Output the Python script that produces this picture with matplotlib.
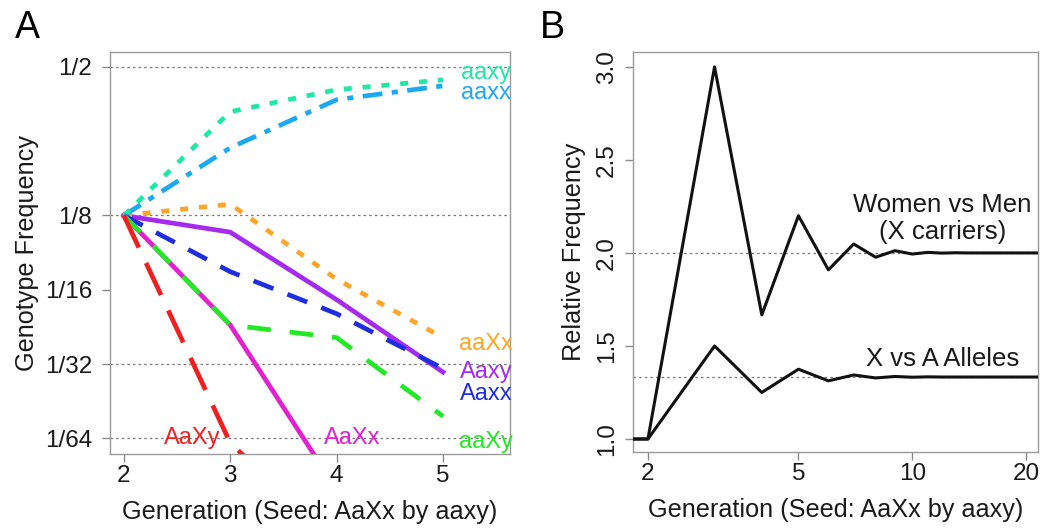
import matplotlib
matplotlib.use("Agg")
from matplotlib import pyplot as plt
import numpy as np

# panel A: genotype frequencies by generation (log2 scale)
gens_a = [2, 3, 4, 5]
aaxy = [0.125, 0.329, 0.404, 0.443]
aaxx = [0.125, 0.235, 0.368, 0.419]
aaXx = [0.125, 0.139, 0.069, 0.040]
Aaxy = [0.125, 0.107, 0.057, 0.029]
Aaxx = [0.125, 0.074, 0.050, 0.030]
aaXy = [0.125, 0.045, 0.040, 0.0192]
AaXx = [0.125, 0.045, 0.0097, 0.0025]
AaXy = [0.125, 0.015, 0.0058, 0.0015]

a_yticks = [1 / 2, 1 / 8, 1 / 16, 1 / 32, 1 / 64]
a_yticklabels = ["1/2", "1/8", "1/16", "1/32", "1/64"]
a_grid = [1 / 2, 1 / 8, 1 / 32, 1 / 64]

# panel B: relative frequencies by generation (log x)
gens_b = [1, 2, 3, 4, 5, 6, 7, 8, 9, 10, 11, 12, 13, 14, 15, 16, 17, 18, 19, 20, 21, 22, 23]
women_men = [1.0, 1.0, 3.0, 1.667, 2.2, 1.909, 2.048, 1.977, 2.012, 1.994, 2.003,
             1.999, 2.001, 2.0, 2.0, 2.0, 2.0, 2.0, 2.0, 2.0, 2.0, 2.0, 2.0]
x_vs_a = [1.0, 1.0, 1.5, 1.25, 1.375, 1.3125, 1.344, 1.328, 1.336, 1.332, 1.334,
          1.333, 1.333, 1.333, 1.333, 1.333, 1.333, 1.333, 1.333, 1.333, 1.333, 1.333, 1.333]
b_xticks = [2, 5, 10, 20]
b_yticks = [1.0, 1.5, 2.0, 2.5, 3.0]
b_grid = [2.0, 1.3333]

plt.rcParams['font.family'] = ['Liberation Sans', 'DejaVu Sans']

W, H = 1043, 531
fig = plt.figure(figsize=(W / 100, H / 100), dpi=100)


def px_axes(x0, y0, x1, y1):
    # axes from pixel box (top-left origin)
    return fig.add_axes([x0 / W, 1 - y1 / H, (x1 - x0) / W, (y1 - y0) / H])


def style(ax):
    for s in ax.spines.values():
        s.set_color("#9a9a9a")
        s.set_linewidth(1.0)
    ax.tick_params(direction="out", length=6, width=1.0, color="#8a8a8a",
                   labelsize=17.5, labelcolor="#1a1a1a")


# ---------- A ----------
axA = px_axes(110, 52, 510, 454)
style(axA)
axA.set_yscale("log", base=2)
axA.set_xlim(1.87, 5.63)
axA.set_ylim(2 ** -6.21, 2 ** -0.8)
for g in a_grid:
    axA.axhline(g, color="#777777", lw=0.9, ls=(0, (2, 2.5)), zorder=1)

lw = 3.4
series = [
    (Aaxy, "#a52bf0", "-", "Aaxy", 5.41, 0.0290),
    (AaXx, "#e322cf", "-", "AaXx", 4.15, 1 / 64),
    (aaXx, "#ffa528", (0, (1.7, 2.3)), "aaXx", 5.40, 0.0377),
    (aaxx, "#1da9f0", (0, (4.2, 2.0, 1.3, 2.0)), "aaxx", 5.40, 0.390),
    (aaxy, "#1ee8a4", (0, (1.7, 2.3)), "aaxy", 5.40, 0.474),
    (Aaxx, "#1f2fe0", (0, (4.5, 3.2)), "Aaxx", 5.41, 0.0237),
    (aaXy, "#22e825", (0, (5, 4)), "aaXy", 5.40, 0.0151),
    (AaXy, "#f02020", (0, (7.5, 3.6)), "AaXy", 2.64, 1 / 64),
]
for vals, col, ls, name, tx, ty in series:
    axA.plot(gens_a, vals, color=col, lw=lw, ls=ls, zorder=3)
    axA.text(tx, ty, name, color=col, fontsize=17, ha="center", va="center",
             zorder=4, clip_on=False)

axA.set_xticks(gens_a)
axA.set_yticks(a_yticks)
axA.set_yticklabels(a_yticklabels)
axA.yaxis.set_minor_locator(matplotlib.ticker.NullLocator())
axA.tick_params(axis="x", pad=2)
axA.tick_params(axis="y", pad=7)
axA.set_xlabel("Generation (Seed: AaXx by aaxy)", fontsize=18.2, color="#1a1a1a", labelpad=9)
axA.set_ylabel("Genotype Frequency", fontsize=18.2, color="#1a1a1a", labelpad=4)
fig.text(27 / W, 1 - 28 / H, "A", fontsize=27, ha="center", va="center")

# ---------- B ----------
axB = px_axes(633, 52, 1038, 452)
style(axB)
axB.set_xscale("log")
axB.set_xlim(1.826, 21.5)
axB.set_ylim(0.93, 3.08)
for g in b_grid:
    axB.axhline(g, color="#777777", lw=0.9, ls=(0, (2, 2.5)), zorder=1)
axB.plot(gens_b, women_men, color="#111111", lw=2.2, zorder=3)
axB.plot(gens_b, x_vs_a, color="#111111", lw=2.2, zorder=3)
axB.text(12.0, 2.256, "Women vs Men", fontsize=18.5, ha="center", va="center", color="#1a1a1a")
axB.text(12.0, 2.11, "(X carriers)", fontsize=18.5, ha="center", va="center", color="#1a1a1a")
axB.text(12.0, 1.43, "X vs A Alleles", fontsize=18.5, ha="center", va="center", color="#1a1a1a")

axB.set_xticks(b_xticks)
axB.set_xticklabels([str(t) for t in b_xticks])
axB.xaxis.set_minor_locator(matplotlib.ticker.NullLocator())
axB.set_yticks(b_yticks)
axB.set_yticklabels(["%.1f" % t for t in b_yticks], rotation=90, va="center")
axB.tick_params(axis="x", pad=2)
axB.tick_params(axis="y", pad=5)
axB.set_xlabel("Generation (Seed: AaXx by aaxy)", fontsize=18.2, color="#1a1a1a", labelpad=9)
axB.set_ylabel("Relative Frequency", fontsize=18.2, color="#1a1a1a", labelpad=7)
fig.text(552 / W, 1 - 28 / H, "B", fontsize=27, ha="center", va="center")

fig.savefig("out.png", dpi=100)
